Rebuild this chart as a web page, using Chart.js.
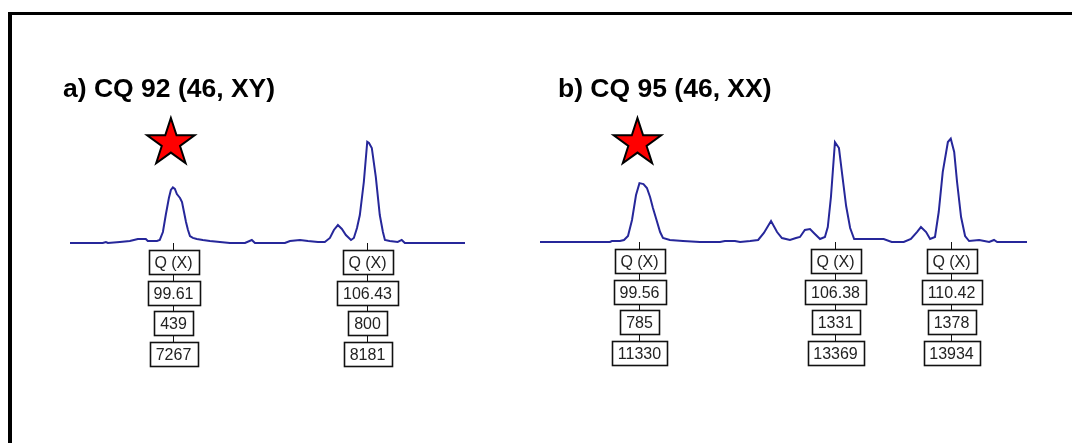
<!DOCTYPE html>
<html>
<head>
<meta charset="utf-8">
<script src="https://cdn.jsdelivr.net/npm/chart.js@4/dist/chart.umd.min.js"></script>
<style>
  html, body { margin: 0; padding: 0; background: #fff; }
  #page { position: relative; width: 1072px; height: 443px; overflow: hidden; background: #fff; }
  #frame { position: absolute; left: 8px; top: 12px; width: 1300px; height: 700px;
           border-left: 4px solid #000; border-top: 3.5px solid #000; }
  .panel { position: absolute; top: 0; width: 536px; height: 443px; }
</style>
</head>
<body>
<div id="page">
  <div id="frame"></div>
  <div class="panel" style="left:0"><canvas id="chartA"></canvas></div>
  <div class="panel" style="left:536px"><canvas id="chartB"></canvas></div>
</div>
<script>
// ---- Sample a: CQ 92 (46, XY) ----
const titleA = 'a) CQ 92 (46, XY)';
// fragment size (bp) and signal (RFU) along the trace, between called peaks
const traceSizeA = [96.00, 97.15, 97.26, 97.33, 97.75, 98.10, 98.38, 98.66, 98.73, 99.05, 99.15, 99.26,
  99.36, 99.47, 99.54, 99.68, 99.75, 99.86, 99.93, 100.00, 100.07, 100.14, 100.21, 100.31, 100.45,
  100.66, 100.91, 101.26, 101.61, 102.14, 102.38, 102.49, 103.54, 103.72, 104.07, 104.35, 104.70,
  104.94, 105.12, 105.26, 105.40, 105.54, 105.68, 105.86, 105.96, 106.07, 106.17, 106.31, 106.49,
  106.59, 106.73, 106.87, 106.98, 107.05, 107.22, 107.50, 107.64, 107.75, 109.86];
const traceRfuA = [0, 0, 8, 0, 8, 16, 32, 32, 16, 16, 24, 87,
  221, 356, 419, 427, 387, 356, 324, 245, 166, 103, 55, 40, 32,
  24, 16, 8, 0, 0, 24, 0, 0, 16, 24, 16, 8,
  8, 40, 103, 142, 111, 63, 24, 40, 119, 221, 482, 790,
  751, 522, 221, 87, 24, 16, 8, 24, 0, 0];
// called peaks: allele, size (bp), height (RFU), area
const allelesA = ['Q (X)', 'Q (X)'];
const peakSizeA = [99.61, 106.43];
const peakHeightA = [439, 800];
const peakAreaA = [7267, 8181];
const starredPeakA = 0;

// ---- Sample b: CQ 95 (46, XX) ----
const titleB = 'b) CQ 95 (46, XX)';
const traceSizeB = [96.09, 98.53, 98.60, 98.88, 99.02, 99.16, 99.30, 99.44, 99.70, 99.82, 99.93,
  100.03, 100.15, 100.28, 100.38, 100.62, 101.08, 101.67, 102.37, 102.54, 102.89, 103.07, 103.42,
  103.70, 103.90, 104.15, 104.36, 104.53, 104.81, 105.02, 105.16, 105.33, 105.51, 105.68, 105.86,
  106.03, 106.13, 106.24, 106.52, 106.63, 106.77, 106.91, 107.05, 107.56, 108.08, 108.36, 108.78,
  109.03, 109.24, 109.38, 109.56, 109.70, 109.87, 110.00, 110.14, 110.32, 110.54, 110.64, 110.78,
  110.92, 111.06, 111.41, 111.59, 111.76, 111.93, 112.04, 113.08];
const traceRfuB = [0, 0, 13, 13, 27, 80, 293, 627, 773, 720, 600,
  453, 300, 133, 53, 27, 13, 0, 0, 13, 13, 0, 13,
  27, 120, 280, 133, 53, 27, 53, 67, 160, 173, 107, 40,
  67, 200, 600, 1253, 907, 480, 187, 40, 40, 40, 0, 0,
  40, 133, 200, 133, 40, 67, 400, 933, 1333, 1200, 800, 333,
  80, 13, 27, 13, 0, 27, 0, 0];
const allelesB = ['Q (X)', 'Q (X)', 'Q (X)'];
const peakSizeB = [99.56, 106.38, 110.42];
const peakHeightB = [785, 1331, 1378];
const peakAreaB = [11330, 13369, 13934];
const starredPeakB = 0;

// merge the called peak apices into the trace so they sit exactly at their labelled values
function buildTrace(sizes, rfu, pSizes, pHeights) {
  const pts = sizes.map((s, i) => ({ x: s, y: rfu[i] }));
  pSizes.forEach((s, i) => pts.push({ x: s, y: pHeights[i] }));
  pts.sort((a, b) => a.x - b.x);
  return pts;
}

function drawStar(ctx, cx, cy, R, r) {
  ctx.beginPath();
  for (let i = 0; i < 10; i++) {
    const rad = i % 2 === 0 ? R : r;
    const ang = -Math.PI / 2 + i * Math.PI / 5;
    const px = cx + rad * Math.cos(ang), py = cy + rad * Math.sin(ang);
    if (i === 0) ctx.moveTo(px, py); else ctx.lineTo(px, py);
  }
  ctx.closePath();
  ctx.fillStyle = '#ff0000';
  ctx.fill();
  ctx.lineWidth = 2;
  ctx.strokeStyle = '#000';
  ctx.stroke();
}

// panel title, marker star and the peak label stacks under the trace
const peakLabels = {
  id: 'peakLabels',
  afterDraw(chart, args, opts) {
    const ctx = chart.ctx;
    const xs = chart.scales.x, ys = chart.scales.y;
    const base = ys.getPixelForValue(0);
    ctx.save();
    ctx.fillStyle = '#000';
    ctx.font = 'bold 26.5px "Liberation Sans", Arial, sans-serif';
    ctx.textAlign = 'left';
    ctx.textBaseline = 'alphabetic';
    ctx.fillText(opts.title, opts.titleX, opts.titleY);

    const sx = xs.getPixelForValue(opts.sizes[opts.star]) - 2;
    drawStar(ctx, sx, chart.chartArea.top + 23, 25, 9.6);

    ctx.font = '16px "Liberation Sans", Arial, sans-serif';
    ctx.textAlign = 'center';
    ctx.textBaseline = 'middle';
    opts.sizes.forEach((s, i) => {
      const cx = Math.round(xs.getPixelForValue(s)) + 0.5;
      const rows = [opts.alleles[i], s.toFixed(2), String(opts.heights[i]), String(opts.areas[i])];
      const boxH = 24, pitch = 30.7, first = base + 7;
      ctx.strokeStyle = '#111';
      ctx.lineWidth = 1;
      ctx.beginPath();
      ctx.moveTo(cx, base);
      ctx.lineTo(cx, first + 3 * pitch);
      ctx.stroke();
      rows.forEach((t, k) => {
        const top = Math.round(first + k * pitch) + 0.5;
        const w = Math.round(ctx.measureText(t).width + 12);
        const left = Math.round(cx - w / 2) + 0.5;
        ctx.fillStyle = '#fff';
        ctx.fillRect(left, top, w, boxH);
        ctx.lineWidth = 1.6;
        ctx.strokeStyle = '#111';
        ctx.strokeRect(left, top, w, boxH);
        ctx.fillStyle = '#222';
        ctx.fillText(t, cx, top + boxH / 2 + 1);
      });
    });
    ctx.restore();
  }
};

function makePanel(id, cfg) {
  const pts = buildTrace(cfg.sizes, cfg.rfu, cfg.pSizes, cfg.pHeights);
  return new Chart(document.getElementById(id), {
    type: 'line',
    data: { datasets: [{ data: pts, borderColor: '#26279a', borderWidth: 2, pointRadius: 0,
                         tension: 0, fill: false }] },
    options: {
      responsive: true, maintainAspectRatio: false, animation: false,
      layout: { padding: cfg.padding },
      scales: {
        x: { type: 'linear', display: false, min: cfg.sizes[0], max: cfg.sizes[cfg.sizes.length - 1] },
        y: { display: false, min: cfg.yMin, max: cfg.yMax }
      },
      plugins: {
        legend: { display: false }, tooltip: { enabled: false },
        peakLabels: { title: cfg.title, titleX: cfg.titleX, titleY: 97,
                      alleles: cfg.alleles, sizes: cfg.pSizes, heights: cfg.pHeights,
                      areas: cfg.areas, star: cfg.star }
      }
    },
    plugins: [peakLabels]
  });
}

makePanel('chartA', {
  sizes: traceSizeA, rfu: traceRfuA, pSizes: peakSizeA, pHeights: peakHeightA,
  alleles: allelesA, areas: peakAreaA, star: starredPeakA, title: titleA, titleX: 63,
  padding: { left: 70, right: 71, top: 120, bottom: 180 }, yMin: -158, yMax: 972
});
makePanel('chartB', {
  sizes: traceSizeB, rfu: traceRfuB, pSizes: peakSizeB, pHeights: peakHeightB,
  alleles: allelesB, areas: peakAreaB, star: starredPeakB, title: titleB, titleX: 22,
  padding: { left: 4, right: 45, top: 120, bottom: 180 }, yMin: -280, yMax: 1627
});
</script>
</body>
</html>
